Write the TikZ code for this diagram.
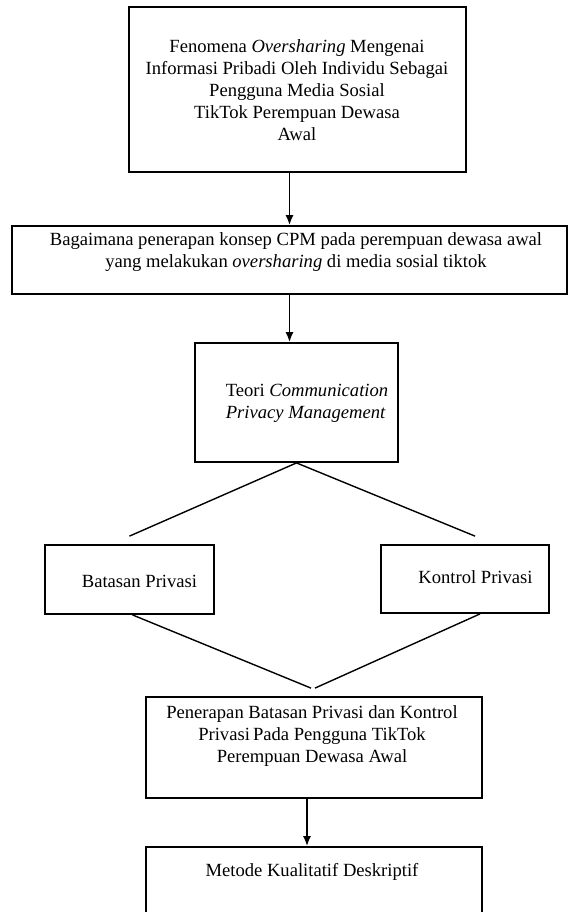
\documentclass[tikz,border=0pt]{standalone}
\usepackage{fontspec}
\setmainfont{Liberation Serif}
\usepackage{tikz}
\usetikzlibrary{arrows.meta, positioning, calc}
\tikzset{%
	box/.style={draw, rectangle, line width=0.9pt, inner sep=0mm},
	txt/.style={inner sep=0mm, align=center, font=\fontsize{9.3}{11}\selectfont},
	arr/.style={-{Latex[length=5pt, width=4pt]}, line width=0.8pt},
	connector/.style={line width=0.7pt}
}

\begin{document}
\begin{tikzpicture}[x=0.5pt, y=-0.5pt]
	\useasboundingbox (0,0) rectangle (569,912);
	\clip (0,0) rectangle (569,912);

	% boxes
	\node[box, minimum width=168.5pt, minimum height=82.5pt] (fenomena) at (297.5,89.5) {};
	\node[box, minimum width=277.5pt, minimum height=34pt] (rumusan) at (289.5,260) {};
	\node[box, minimum width=101.5pt, minimum height=59.5pt] (teori) at (296.5,402.5) {};
	\node[box, minimum width=84.5pt, minimum height=34.5pt] (batasan) at (129.5,579.5) {};
	\node[box, minimum width=84pt, minimum height=34pt] (kontrol) at (465,579) {};
	\node[box, minimum width=168pt, minimum height=50.5pt] (penerapan) at (314,747.5) {};
	\node[box, minimum width=168pt, minimum height=41.5pt] (metode) at (314,888.5) {};

	% texts
	\node[txt] (fenomenaT) at (297,90) {Fenomena \textit{Oversharing} Mengenai\\
		Informasi Pribadi Oleh Individu Sebagai\\ Pengguna Media Sosial\\
		TikTok Perempuan Dewasa\\ Awal};
	\node[txt] (rumusanT) at (296,252) {Bagaimana penerapan konsep CPM pada perempuan dewasa awal\\
		yang melakukan \textit{oversharing} di media sosial tiktok};
	\node[txt, align=left] (teoriT) at (307,403) {Teori \textit{Communication}\\ \textit{Privacy Management}};
	\node[txt] (batasanT) at (139.5,581) {Batasan Privasi};
	\node[txt] (kontrolT) at (475.5,577) {Kontrol Privasi};
	\node[txt] (penerapanT) at (312,736) {Penerapan Batasan Privasi dan Kontrol\\
		Privasi\,Pada Pengguna TikTok\\ Perempuan Dewasa Awal};
	\node[txt] (metodeT) at (312,872) {Metode Kualitatif Deskriptif};

	% free ends of the branch lines
	\coordinate (bTop) at ([yshift=4pt]batasan.north);
	\coordinate (kTop) at ([shift={(5pt,4pt)}]kontrol.north);
	\coordinate (pL) at ([shift={(-1.5pt,4pt)}]penerapan.north);
	\coordinate (pR) at ([shift={(0.5pt,4pt)}]penerapan.north);

	\draw[arr] (fenomena.south -| rumusan.north) -- (rumusan.north);
	\draw[arr] (rumusan.south) -- (rumusan.south |- teori.north);
	\draw[connector] (teori.south) -- (bTop);
	\draw[connector] (teori.south) -- (kTop);
	\draw[connector] ([xshift=1.5pt]batasan.south) -- (pL);
	\draw[connector] ([xshift=7.5pt]kontrol.south) -- (pR);
	\draw[arr] ([xshift=-3.5pt]penerapan.south) -- ([xshift=-3.5pt]metode.north);
\end{tikzpicture}
\end{document}
